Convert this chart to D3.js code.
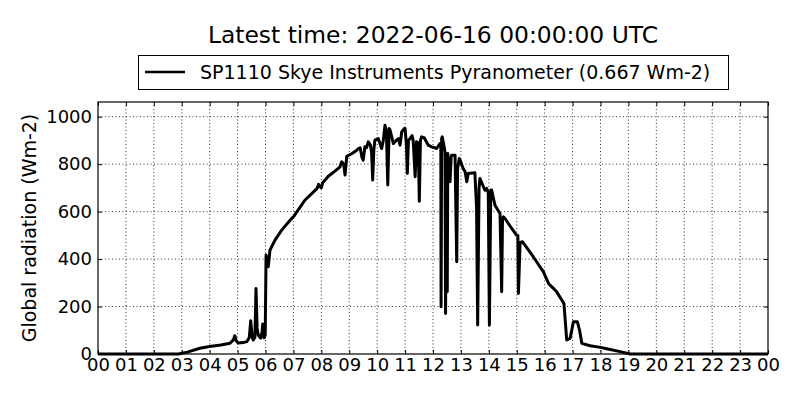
<!DOCTYPE html>
<html>
<head>
<meta charset="utf-8">
<script src="https://cdn.jsdelivr.net/npm/d3@7"></script>
<style>
  body { margin: 0; background: #fff; }
  svg { font-family: "DejaVu Sans", sans-serif; }
  .axis path { stroke: none; }
  .axis line { stroke: #000; }
  .axis text { font-size: 18px; fill: #000; font-family: "DejaVu Sans", sans-serif; }
</style>
</head>
<body>
<div id="chart"></div>
<script>
// the readings, hour of the day (UTC) and radiation in Wm-2
const hours = [
  0, 2.88, 3.2, 3.65, 4.0, 4.4, 4.73, 4.85, 4.9, 4.95, 5.03, 5.2, 5.33, 5.42, 5.47, 5.52,
  5.56, 5.62, 5.66, 5.7, 5.74, 5.8, 5.83, 5.88, 5.9, 5.93, 5.95, 5.99, 6.02, 6.06, 6.1, 6.16,
  6.34, 6.58, 6.88, 7.0, 7.41, 7.85, 7.9, 7.95, 8.0, 8.05, 8.25, 8.5, 8.67, 8.73, 8.8, 8.85,
  8.91, 9.1, 9.27, 9.33, 9.39, 9.45, 9.5, 9.56, 9.62, 9.68, 9.76, 9.8, 9.84, 9.88, 9.92, 10.04,
  10.16, 10.22, 10.28, 10.33, 10.38, 10.43, 10.46, 10.58, 10.68, 10.76, 10.82, 10.88, 10.97, 11.0,
  11.05, 11.08, 11.12, 11.18, 11.25, 11.29, 11.36, 11.41, 11.47, 11.51, 11.55, 11.59, 11.68, 11.83,
  11.95, 12.07, 12.13, 12.25, 12.28, 12.29, 12.31, 12.33, 12.39, 12.43, 12.45, 12.48, 12.51, 12.53,
  12.61, 12.65, 12.67, 12.79, 12.85, 12.88, 12.94, 12.97, 13.08, 13.15, 13.21, 13.26, 13.5, 13.56,
  13.6, 13.65, 13.68, 13.86, 13.92, 13.98, 14.02, 14.07, 14.1, 14.22, 14.4, 14.46, 14.49, 14.52,
  14.58, 14.7, 14.82, 14.99, 15.04, 15.06, 15.12, 15.21, 15.59, 15.95, 16.15, 16.25, 16.43, 16.69,
  16.79, 16.91, 16.97, 17.03, 17.17, 17.25, 17.33, 17.63, 18.0, 18.22, 18.7, 19.06, 24
]
const radiation = [
  0, 0, 8, 24, 32, 38, 45, 60, 77, 55, 46, 48, 52, 70, 140, 75,
  59, 70, 276, 110, 80, 70, 67, 95, 126, 85, 68, 80, 417, 395, 368, 438,
  480, 522, 564, 578, 648, 698, 715, 705, 700, 722, 749, 772, 789, 810, 800, 754,
  833, 845, 859, 866, 869, 831, 817, 873, 869, 894, 880, 850, 733, 860, 901, 908,
  866, 900, 964, 940, 712, 950, 945, 887, 900, 908, 880, 936, 950, 950,
  880, 761, 900, 908, 920, 900, 747, 894, 890, 644, 900, 915, 912, 880,
  873, 869, 866, 887, 880, 199, 908, 915, 880, 850, 171, 820, 262, 845,
  726, 830, 838, 838, 389, 780, 824, 817, 782, 768, 726, 761, 764, 620,
  122, 700, 740, 690, 698, 680, 122, 691, 691, 627, 592, 262, 570, 578,
  571, 550, 529, 501, 500, 255, 470, 473, 410, 347, 295, 284, 262, 213,
  59, 66, 100, 136, 136, 100, 45, 35, 28, 22, 10, 0, 0
]

// tick values and labels
const xTicks = d3.range(0, 25)
const xTickLabels = xTicks.map(h => String(h % 24).padStart(2, '0'))
const yTicks = [0, 200, 400, 600, 800, 1000]

const titleText = 'Latest time: 2022-06-16 00:00:00 UTC'
const legendText = 'SP1110 Skye Instruments Pyranometer (0.667 Wm-2)'
const yLabel = 'Global radiation (Wm-2)'

const data = hours.map((h, i) => ({ hour: h, value: radiation[i] }))

const width = 800
const height = 400
const margin = { top: 102, right: 32, bottom: 46, left: 98 }
const plotW = width - margin.left - margin.right
const plotH = height - margin.top - margin.bottom

const svg = d3.select('div#chart').append('svg').attr('width', width).attr('height', height)

const xScale = d3.scaleLinear().domain([0, 24]).range([0, plotW])
const yScale = d3.scaleLinear().domain([0, 1062]).range([plotH, 0])

const g = svg.append('g').attr('transform', `translate(${margin.left},${margin.top})`)

// dotted grid
g.append('g').selectAll('line').data(xTicks.slice(1, -1)).enter().append('line')
  .attr('x1', d => xScale(d)).attr('x2', d => xScale(d))
  .attr('y1', 0).attr('y2', plotH)
  .attr('stroke', '#000').attr('stroke-width', 0.8).attr('stroke-dasharray', '1,2.5')
g.append('g').selectAll('line').data(yTicks.slice(1)).enter().append('line')
  .attr('x1', 0).attr('x2', plotW)
  .attr('y1', d => yScale(d)).attr('y2', d => yScale(d))
  .attr('stroke', '#000').attr('stroke-width', 0.8).attr('stroke-dasharray', '1,2.5')

// axes, ticks point inward like the classic matplotlib look
const xAxis = d3.axisBottom(xScale).tickValues(xTicks).tickFormat((d, i) => xTickLabels[i])
  .tickSizeInner(-4).tickSizeOuter(0).tickPadding(4)
const yAxis = d3.axisLeft(yScale).tickValues(yTicks).tickFormat(d3.format('d'))
  .tickSizeInner(-4).tickSizeOuter(0).tickPadding(6)
g.append('g').attr('class', 'axis').attr('transform', `translate(0,${plotH})`).call(xAxis)
g.append('g').attr('class', 'axis').call(yAxis)
g.append('g').attr('class', 'axis').call(d3.axisTop(xScale).tickValues(xTicks).tickFormat('').tickSizeInner(-4).tickSizeOuter(0))
g.append('g').attr('class', 'axis').attr('transform', `translate(${plotW},0)`)
  .call(d3.axisRight(yScale).tickValues(yTicks).tickFormat('').tickSizeInner(-4).tickSizeOuter(0))

// the radiation line
const line = d3.line().x(d => xScale(d.hour)).y(d => yScale(d.value))
g.append('path').datum(data)
  .attr('d', line)
  .attr('fill', 'none')
  .attr('stroke', '#000')
  .attr('stroke-width', 3)
  .attr('stroke-linejoin', 'round')

// frame
g.append('rect').attr('width', plotW).attr('height', plotH)
  .attr('fill', 'none').attr('stroke', '#000').attr('stroke-width', 1.2)

// y label
svg.append('text')
  .attr('transform', `translate(36,${margin.top + plotH / 2}) rotate(-90)`)
  .attr('text-anchor', 'middle')
  .attr('font-size', '19px')
  .text(yLabel)

// title
svg.append('text')
  .attr('x', 433).attr('y', 43)
  .attr('text-anchor', 'middle')
  .attr('font-size', '23.4px')
  .text(titleText)

// legend
svg.append('rect').attr('x', 138.5).attr('y', 55.5).attr('width', 590).attr('height', 34)
  .attr('fill', '#fff').attr('stroke', '#000').attr('stroke-width', 1)
svg.append('line').attr('x1', 145).attr('x2', 185).attr('y1', 72).attr('y2', 72)
  .attr('stroke', '#000').attr('stroke-width', 2.6)
svg.append('text').attr('x', 200).attr('y', 72).attr('dy', '0.35em')
  .attr('font-size', '19px')
  .text(legendText)
</script>
</body>
</html>
